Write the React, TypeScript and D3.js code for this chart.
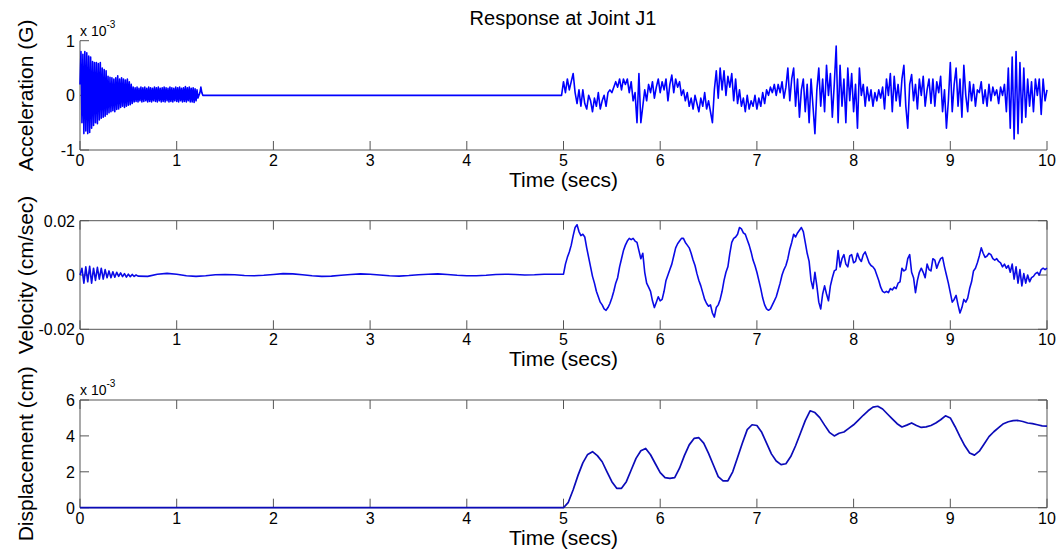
import React from "react";
import * as d3 from "d3";

// ---------- DATA ----------
const xTicks = [0, 1, 2, 3, 4, 5, 6, 7, 8, 9, 10];
const accTicks = [-1, 0, 1];
const velTicks = [-0.02, 0, 0.02];
const velTickLabels = ["-0.02", "0", "0.02"];
const dispTicks = [0, 2, 4, 6];

// Acceleration (x 1e-3 G), free vibration 0 - 1.28 s, step 0.01 s
const accEarlyStep = 0.01;
const accEarly = [
  0.2, 0.8, -0.5, 0.75, -0.7, 0.8, -0.65, 0.78, -0.7, 0.72,
  -0.68, 0.7, -0.6, 0.62, -0.55, 0.6, -0.5, 0.6, -0.52, 0.58,
  -0.45, 0.6, -0.42, 0.5, -0.4, 0.47, -0.38, 0.45, -0.35, 0.35,
  -0.32, 0.33, -0.3, 0.32, -0.28, 0.3, -0.3, 0.32, -0.26, 0.36,
  -0.25, 0.3, -0.22, 0.32, -0.2, 0.3, -0.22, 0.28, -0.2, 0.3,
  -0.18, 0.25, -0.17, 0.2, -0.15, 0.15,
  -0.12, 0.14, -0.11, 0.15, -0.12, 0.13, -0.1, 0.15, -0.12, 0.14,
  -0.11, 0.15, -0.1, 0.13, -0.12, 0.15, -0.11, 0.14, -0.12, 0.13,
  -0.1, 0.15, -0.11, 0.14, -0.12, 0.15, -0.1, 0.13, -0.12, 0.14,
  -0.11, 0.15, -0.12, 0.14, -0.1, 0.13, -0.12, 0.15, -0.11, 0.14,
  -0.12, 0.13, -0.1, 0.15, -0.11, 0.14, -0.12, 0.15, -0.1, 0.13,
  -0.12, 0.14, -0.11, 0.16, -0.12, 0.14, -0.1, 0.15, -0.12, 0.13,
  -0.12, 0.14, -0.13, 0.12, -0.1, 0.1, -0.05,
  0.0, 0.05, 0.15, 0.05, 0.0, 0,
];
// Acceleration (x 1e-3 G), 5.00 - 10.00 s, step 0.02 s
const accLateStart = 5.0;
const accLateStep = 0.02;
const accLate = [
  0.25, 0.05, 0.3, 0.1, 0.25, 0.4, 0.05, -0.15, 0.1, -0.2,
  0.1, -0.15, -0.25, 0.0, -0.1, -0.3, -0.05, -0.2, 0.05, -0.25,
  -0.1, 0.0, -0.2, 0.05, 0.1, 0.05, 0.15, 0.25, 0.15, 0.3,
  0.1, 0.3, 0.2, 0.3, 0.05, 0.25, -0.1, 0.05, -0.5, 0.4,
  -0.5, -0.2, 0.1, -0.1, 0.2, 0.05, 0.25, -0.05, 0.15, 0.3,
  0.05, 0.25, 0.1, 0.3, -0.1, 0.2, 0.37, 0.05, 0.3, 0.15,
  0.25, 0.0, 0.1, -0.1, 0.05, -0.2, -0.05, -0.25, 0.0, -0.15,
  -0.3, -0.05, -0.2, 0.05, -0.25, -0.1, -0.3, -0.5, 0.1, 0.45,
  -0.05, 0.5, 0.1, 0.45, 0.0, 0.35, 0.15, 0.4, -0.1, 0.3,
  -0.15, 0.1, -0.2, -0.05, -0.3, 0.0, -0.25, -0.1, -0.2, 0.0,
  -0.25, -0.05, -0.2, 0.05, -0.15, 0.1, 0.0, 0.15, 0.05, 0.2,
  0.0, 0.2, 0.05, 0.25, -0.05, 0.15, 0.5, -0.1, 0.3, 0.5,
  -0.2, 0.3, -0.4, 0.1, 0.3, -0.3, 0.2, -0.5, 0.3, -0.2,
  -0.7, 0.1, 0.5, -0.2, 0.3, -0.3, 0.55, 0.0, 0.4, -0.4,
  0.2, 0.9, -0.5, 0.55, -0.2, 0.3, -0.5, 0.5, -0.1, 0.4,
  -0.3, 0.2, -0.6, 0.5, 0.0, 0.2, -0.2, 0.15, -0.1, 0.1,
  -0.2, 0.05, -0.1, 0.1, -0.05, 0.15, -0.25, 0.3, 0.0, 0.4,
  -0.3, 0.35, -0.1, 0.2, -0.2, 0.3, 0.55, -0.2, -0.6, 0.2,
  0.38, -0.1, 0.2, -0.25, 0.3, 0.0, 0.35, -0.2, 0.1, 0.3,
  -0.15, 0.3, -0.2, 0.25, 0.05, 0.35, -0.3, 0.1, -0.6, -0.1,
  0.6, -0.3, 0.2, 0.5, -0.2, 0.3, -0.4, 0.55, 0.0, -0.3,
  0.25, -0.1, 0.2, -0.2, 0.1, 0.05, 0.25, -0.15, 0.1, -0.2,
  0.2, -0.1, 0.15, 0.0, 0.1, -0.15, 0.15, 0.0, 0.2, -0.3,
  0.5, -0.6, 0.7, -0.8, 0.8, -0.7, 0.6, -0.5, 0.5, -0.4,
  0.3, -0.2, 0.25, -0.3, 0.3, 0.0, 0.3, -0.35, 0.3, -0.1,
  0.1,
];

// Velocity (x 1e-3 cm/sec)
const velEarlyStep = 0.02; // 0.00 - 0.60 s
const velEarly = [
  0, 2.5, -3, 3, -2.5, 3.2, -3, 2.5, -2, 2.8,
  -1.5, 2.5, -1.5, 2, -1, 1.5, -1, 1.2, -0.8, 1,
  -0.5, 0.8, -0.6, 0.5, -0.8, 0.3, -0.6, 0.2, -0.5, 0,
  -0.4,
];
const velMidStart = 0.7;
const velMidStep = 0.1; // 0.7 - 4.9 s
const velMid = [
  -0.5, 0.3, 0.6, 0.3, -0.3, -0.5, -0.3, 0.1, 0.2, 0.1,
  -0.2, -0.3, -0.1, 0.2, 0.5, 0.4, 0.1, -0.3, -0.5, -0.4,
  -0.1, 0.2, 0.4, 0.3, 0, -0.3, -0.4, -0.2, 0.1, 0.3,
  0.4, 0.2, -0.1, -0.3, -0.3, -0.1, 0.2, 0.3, 0.2, 0,
  0.1, 0.3, 0.3,
];
const velLateStart = 5.0;
const velLateStep = 0.02; // 5.00 - 10.00 s
const velLate = [
  0.3, 4, 6.5, 8.5, 11, 14.5, 17.5, 18.5, 16, 14.5,
  15, 14, 10, 6.5, 3, -0.5, -3, -6, -8, -10,
  -11, -12.5, -13, -12, -10.5, -8.5, -6, -3, -1, 3,
  6, 9, 11, 12.5, 13.5, 13, 13.5, 12.5, 12, 9,
  6, 8, 1, -3, -4.5, -6, -9.5, -12, -10, -8,
  -9.5, -9, -6, -2, 0, 2, 4, 7, 10, 11.5,
  12.5, 13.5, 13.5, 12, 11, 10, 8, 5.5, 3.5, 0.5,
  -2, -4, -6.5, -9, -10.5, -11.5, -11, -14, -15.5, -12,
  -11, -9, -6, -2, 1, 3, 8, 12, 13.5, 14,
  15, 17.5, 17, 15.5, 15, 13, 11, 8.5, 5.5, 3.5,
  1, -2, -5, -8.5, -11, -12.5, -13, -12.5, -11, -9.5,
  -8, -5.5, -3, 0, 2, 3.5, 6, 9.5, 12, 15,
  14, 15.5, 16.5, 17.5, 16, 12, 8, 5, -2, -5,
  1, -4, -10, -12.5, -7, -4, -7, -9.5, -4, -1,
  1.5, 2, 9, 3, 6, 7.5, 4, 3, 7, 7.5,
  4.5, 5, 8, 6, 5, 7.5, 8.5, 6.5, 4.5, 3.5,
  3, 2, 0, -2, -4.5, -6, -6.5, -6, -6.5, -5,
  -5.5, -4.5, -5, -3, -2.5, 2.5, 1.5, 2, 6, 7.5,
  1, -1, -6.5, -2, 1, 2.5, 1, -1, 4, 2,
  1.5, 6, 5.5, 2.5, 4.5, 6, 6.5, 3, 0, -3,
  -6.5, -10, -9, -7.5, -11, -14, -12, -9, -10, -8.5,
  -5, -2.5, 1.5, 2.5, 4.5, 7, 10, 8, 6.5, 7,
  8, 7.5, 6, 5.5, 6, 5, 4.5, 3, 4, 2.5,
  3.5, 1, 4, -1.5, 3, -3, 2, -4, 0.5, -3,
  0, -2.5, -1, -0.5, 0.5, 1, 0, 2, 2.5, 2,
  2.5,
];

// Displacement (x 1e-3 cm), 5.00 - 10.00 s, step 0.05 s (zero before 5 s)
const dispStart = 5.0;
const dispStep = 0.05;
const disp = [
  0, 0.3, 1.0, 1.8, 2.5, 2.97, 3.12, 2.9, 2.56, 2.0,
  1.45, 1.08, 1.08, 1.45, 2.1, 2.75, 3.17, 3.3, 2.95, 2.45,
  1.95, 1.68, 1.63, 1.68, 2.2, 2.9, 3.5, 3.86, 3.9, 3.6,
  3.03, 2.38, 1.73, 1.5, 1.5, 2.0, 2.8, 3.6, 4.35, 4.62,
  4.58, 4.2, 3.6, 3.0, 2.6, 2.4, 2.45, 2.85, 3.45, 4.15,
  4.85, 5.4, 5.3, 5.02, 4.6, 4.2, 4.0, 4.15, 4.22, 4.42,
  4.62, 4.88, 5.15, 5.4, 5.6, 5.65, 5.5, 5.22, 4.95, 4.68,
  4.5, 4.6, 4.72, 4.58, 4.47, 4.5, 4.58, 4.72, 4.9, 5.12,
  5.0, 4.51, 3.96, 3.45, 3.05, 2.93, 3.15, 3.55, 3.96, 4.23,
  4.46, 4.68, 4.79, 4.85, 4.86, 4.8, 4.72, 4.68, 4.62, 4.56,
  4.55,
];

// ---------- LAYOUT ----------
const W = 1063;
const H = 555;
const X0 = 80;
const X1 = 1047;
const FONT = "'Liberation Sans', Arial, Helvetica, sans-serif";
const AX = "#555";
const TICK = 9;

const panels = [
  { top: 40.7, bottom: 150 },
  { top: 220.7, bottom: 329.3 },
  { top: 400, bottom: 507.7 },
];

const x = d3.scaleLinear().domain([0, 10]).range([X0, X1]);

type Pt = [number, number];

function accPoints(): Pt[] {
  const pts: Pt[] = accEarly.map((v, i) => [i * accEarlyStep, v] as Pt);
  pts.push([4.98, 0]);
  accLate.forEach((v, i) => pts.push([accLateStart + i * accLateStep, v]));
  return pts;
}
function velPoints(): Pt[] {
  const pts: Pt[] = velEarly.map((v, i) => [i * velEarlyStep, v * 1e-3] as Pt);
  velMid.forEach((v, i) => pts.push([velMidStart + i * velMidStep, v * 1e-3]));
  velLate.forEach((v, i) => pts.push([velLateStart + i * velLateStep, v * 1e-3]));
  return pts;
}
function dispPoints(): Pt[] {
  const pts: Pt[] = [[0, 0]];
  disp.forEach((v, i) => pts.push([dispStart + i * dispStep, v]));
  return pts;
}

function Panel(props: {
  p: { top: number; bottom: number };
  domain: [number, number];
  yTicks: number[];
  yLabels: string[];
  data: Pt[];
  color: string;
  width: number;
  box: boolean;
  exp?: boolean;
  ylabel: string;
}) {
  const { p, domain, yTicks, yLabels, data, color, width, box, exp, ylabel } = props;
  const y = d3.scaleLinear().domain(domain).range([p.bottom, p.top]);
  const line = d3
    .line<Pt>()
    .x((d) => x(d[0]))
    .y((d) => y(d[1]));
  const midY = (p.top + p.bottom) / 2;
  return (
    <g>
      <line x1={X0} x2={X1} y1={p.bottom} y2={p.bottom} stroke={AX} strokeWidth={1} />
      <line x1={X0} x2={X0} y1={p.top} y2={p.bottom} stroke={AX} strokeWidth={1} />
      {box && (
        <>
          <line x1={X0} x2={X1} y1={p.top} y2={p.top} stroke={AX} strokeWidth={1} />
          <line x1={X1} x2={X1} y1={p.top} y2={p.bottom} stroke={AX} strokeWidth={1} />
        </>
      )}
      {xTicks.map((t) => (
        <g key={"xt" + t}>
          <line x1={x(t)} x2={x(t)} y1={p.bottom} y2={p.bottom - TICK} stroke={AX} />
          {box && <line x1={x(t)} x2={x(t)} y1={p.top} y2={p.top + TICK} stroke={AX} />}
          <text x={x(t)} y={p.bottom + 16} textAnchor="middle" fontSize={16} fontFamily={FONT}>
            {t}
          </text>
        </g>
      ))}
      {yTicks.map((t, i) => (
        <g key={"yt" + t}>
          <line x1={X0} x2={X0 + TICK} y1={y(t)} y2={y(t)} stroke={AX} />
          {box && <line x1={X1} x2={X1 - TICK} y1={y(t)} y2={y(t)} stroke={AX} />}
          <text x={X0 - 5} y={y(t) + 6} textAnchor="end" fontSize={16} fontFamily={FONT}>
            {yLabels[i]}
          </text>
        </g>
      ))}
      {exp && (
        <text x={X0} y={p.top - 5} fontSize={14} fontFamily={FONT}>
          x 10
          <tspan dy={-8} fontSize={10}>
            -3
          </tspan>
        </text>
      )}
      <path d={line(data) || ""} fill="none" stroke={color} strokeWidth={width} strokeLinejoin="round" />
      <text
        transform={`translate(33,${midY}) rotate(-90)`}
        textAnchor="middle"
        fontSize={21}
        fontFamily={FONT}
      >
        {ylabel}
      </text>
      <text x={(X0 + X1) / 2} y={p.bottom + 37} textAnchor="middle" fontSize={21} fontFamily={FONT}>
        Time (secs)
      </text>
    </g>
  );
}

export default function App() {
  return (
    <svg width={W} height={H} style={{ position: "absolute", left: 0, top: 0, background: "#fff" }}>
      <rect width={W} height={H} fill="#fff" />
      <text x={563} y={25} textAnchor="middle" fontSize={20} fontFamily={FONT}>
        Response at Joint J1
      </text>
      <Panel
        p={panels[0]}
        domain={[-1, 1]}
        yTicks={accTicks}
        yLabels={accTicks.map(String)}
        data={accPoints()}
        color="#0000ff"
        width={1.6}
        box={false}
        exp
        ylabel="Acceleration (G)"
      />
      <Panel
        p={panels[1]}
        domain={[-0.02, 0.02]}
        yTicks={velTicks}
        yLabels={velTickLabels}
        data={velPoints()}
        color="#0a0ae6"
        width={1.6}
        box
        ylabel="Velocity (cm/sec)"
      />
      <Panel
        p={panels[2]}
        domain={[0, 6]}
        yTicks={dispTicks}
        yLabels={dispTicks.map(String)}
        data={dispPoints()}
        color="#0b0bb8"
        width={1.7}
        box
        exp
        ylabel="Displacement (cm)"
      />
    </svg>
  );
}
